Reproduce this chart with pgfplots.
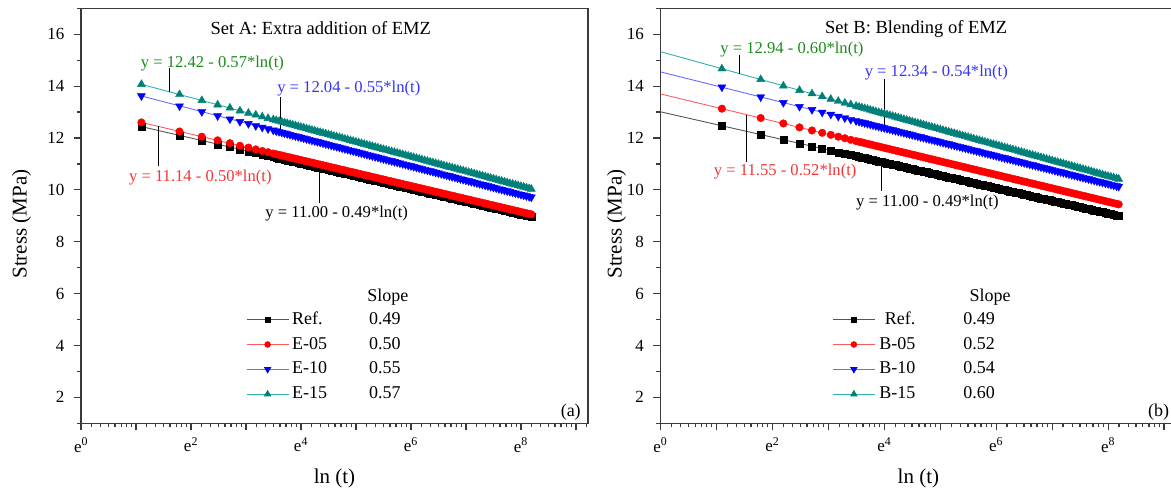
\documentclass[border=0pt]{standalone}
\usepackage{fontspec}
\setmainfont{Liberation Serif}
\usepackage{pgfplots}
\usepackage{pgfplotstable}
\pgfplotsset{compat=1.18}

\definecolor{axgray}{HTML}{3A3A3A}
\definecolor{tealm}{HTML}{008079}
\definecolor{fitblack}{HTML}{555555}
\definecolor{fitred}{HTML}{FF5A5A}
\definecolor{fitblue}{HTML}{6B6BFF}
\definecolor{fitteal}{HTML}{2DB3AA}
\definecolor{eqgreen}{HTML}{1A8C1A}
\definecolor{eqblue}{HTML}{3535F5}
\definecolor{eqred}{HTML}{F53535}

% x = ln(t), t in s; columns: Set A (ra,e5,e10,e15), Set B (rb,b5,b10,b15)
\pgfplotstableread{
x ra e5 e10 e15 rb b5 b10 b15
1.0986 12.44 12.60 13.62 14.07 12.47 13.13 13.96 14.67
1.7918 12.10 12.25 13.23 13.68 12.13 12.77 13.58 14.26
2.1972 11.90 12.05 13.01 13.45 11.93 12.56 13.36 14.01
2.4849 11.76 11.91 12.85 13.28 11.79 12.41 13.21 13.84
2.7081 11.65 11.80 12.73 13.16 11.68 12.29 13.09 13.71
2.8904 11.56 11.70 12.63 13.05 11.59 12.20 12.99 13.60
3.0445 11.49 11.63 12.55 12.96 11.52 12.12 12.91 13.50
3.1781 11.42 11.56 12.47 12.89 11.45 12.05 12.83 13.42
3.2958 11.37 11.50 12.41 12.82 11.40 11.99 12.77 13.35
3.4012 11.31 11.45 12.35 12.76 11.34 11.93 12.71 13.29
3.4965 11.27 11.40 12.30 12.71 11.30 11.88 12.66 13.23
3.55 11.241 11.375 12.268 12.677 11.271 11.854 12.633 13.200
3.6 11.216 11.350 12.240 12.648 11.246 11.828 12.606 13.170
3.65 11.192 11.325 12.213 12.620 11.222 11.802 12.579 13.140
3.7 11.167 11.300 12.185 12.591 11.197 11.776 12.552 13.110
3.75 11.143 11.275 12.158 12.563 11.173 11.750 12.525 13.080
3.8 11.118 11.250 12.130 12.534 11.148 11.724 12.498 13.050
3.85 11.094 11.225 12.103 12.506 11.124 11.698 12.471 13.020
3.9 11.069 11.200 12.075 12.477 11.099 11.672 12.444 12.990
3.95 11.045 11.175 12.048 12.449 11.075 11.646 12.417 12.960
4.0 11.020 11.150 12.020 12.420 11.050 11.620 12.390 12.930
4.05 10.996 11.125 11.993 12.392 11.026 11.594 12.363 12.900
4.1 10.971 11.100 11.965 12.363 11.001 11.568 12.336 12.870
4.15 10.947 11.075 11.938 12.335 10.977 11.542 12.309 12.840
4.2 10.922 11.050 11.910 12.306 10.952 11.516 12.282 12.810
4.25 10.898 11.025 11.883 12.278 10.928 11.490 12.255 12.780
4.3 10.873 11.000 11.855 12.249 10.903 11.464 12.228 12.750
4.35 10.849 10.975 11.828 12.221 10.879 11.438 12.201 12.720
4.4 10.824 10.950 11.800 12.192 10.854 11.412 12.174 12.690
4.45 10.800 10.925 11.773 12.164 10.830 11.386 12.147 12.660
4.5 10.775 10.900 11.745 12.135 10.805 11.360 12.120 12.630
4.55 10.751 10.875 11.718 12.107 10.781 11.334 12.093 12.600
4.6 10.726 10.850 11.690 12.078 10.756 11.308 12.066 12.570
4.65 10.702 10.825 11.663 12.050 10.732 11.282 12.039 12.540
4.7 10.677 10.800 11.635 12.021 10.707 11.256 12.012 12.510
4.75 10.653 10.775 11.608 11.993 10.683 11.230 11.985 12.480
4.8 10.628 10.750 11.580 11.964 10.658 11.204 11.958 12.450
4.85 10.604 10.725 11.553 11.936 10.634 11.178 11.931 12.420
4.9 10.579 10.700 11.525 11.907 10.609 11.152 11.904 12.390
4.95 10.555 10.675 11.498 11.879 10.585 11.126 11.877 12.360
5.0 10.530 10.650 11.470 11.850 10.560 11.100 11.850 12.330
5.05 10.506 10.625 11.443 11.822 10.536 11.074 11.823 12.300
5.1 10.481 10.600 11.415 11.793 10.511 11.048 11.796 12.270
5.15 10.457 10.575 11.388 11.765 10.487 11.022 11.769 12.240
5.2 10.432 10.550 11.360 11.736 10.462 10.996 11.742 12.210
5.25 10.408 10.525 11.333 11.708 10.438 10.970 11.715 12.180
5.3 10.383 10.500 11.305 11.679 10.413 10.944 11.688 12.150
5.35 10.359 10.475 11.278 11.651 10.389 10.918 11.661 12.120
5.4 10.334 10.450 11.250 11.622 10.364 10.892 11.634 12.090
5.45 10.310 10.425 11.223 11.594 10.340 10.866 11.607 12.060
5.5 10.285 10.400 11.195 11.565 10.315 10.840 11.580 12.030
5.55 10.261 10.375 11.168 11.537 10.291 10.814 11.553 12.000
5.6 10.236 10.350 11.140 11.508 10.266 10.788 11.526 11.970
5.65 10.212 10.325 11.113 11.480 10.242 10.762 11.499 11.940
5.7 10.187 10.300 11.085 11.451 10.217 10.736 11.472 11.910
5.75 10.163 10.275 11.058 11.423 10.193 10.710 11.445 11.880
5.8 10.138 10.250 11.030 11.394 10.168 10.684 11.418 11.850
5.85 10.114 10.225 11.003 11.366 10.144 10.658 11.391 11.820
5.9 10.089 10.200 10.975 11.337 10.119 10.632 11.364 11.790
5.95 10.065 10.175 10.948 11.309 10.095 10.606 11.337 11.760
6.0 10.040 10.150 10.920 11.280 10.070 10.580 11.310 11.730
6.05 10.016 10.125 10.893 11.252 10.046 10.554 11.283 11.700
6.1 9.991 10.100 10.865 11.223 10.021 10.528 11.256 11.670
6.15 9.967 10.075 10.838 11.195 9.997 10.502 11.229 11.640
6.2 9.942 10.050 10.810 11.166 9.972 10.476 11.202 11.610
6.25 9.918 10.025 10.783 11.138 9.948 10.450 11.175 11.580
6.3 9.893 10.000 10.755 11.109 9.923 10.424 11.148 11.550
6.35 9.869 9.975 10.728 11.081 9.899 10.398 11.121 11.520
6.4 9.844 9.950 10.700 11.052 9.874 10.372 11.094 11.490
6.45 9.820 9.925 10.673 11.024 9.850 10.346 11.067 11.460
6.5 9.795 9.900 10.645 10.995 9.825 10.320 11.040 11.430
6.55 9.771 9.875 10.618 10.967 9.801 10.294 11.013 11.400
6.6 9.746 9.850 10.590 10.938 9.776 10.268 10.986 11.370
6.65 9.722 9.825 10.563 10.910 9.752 10.242 10.959 11.340
6.7 9.697 9.800 10.535 10.881 9.727 10.216 10.932 11.310
6.75 9.673 9.775 10.508 10.853 9.703 10.190 10.905 11.280
6.8 9.648 9.750 10.480 10.824 9.678 10.164 10.878 11.250
6.85 9.624 9.725 10.453 10.796 9.654 10.138 10.851 11.220
6.9 9.599 9.700 10.425 10.767 9.629 10.112 10.824 11.190
6.95 9.575 9.675 10.398 10.739 9.605 10.086 10.797 11.160
7.0 9.550 9.650 10.370 10.710 9.580 10.060 10.770 11.130
7.05 9.526 9.625 10.343 10.682 9.556 10.034 10.743 11.100
7.1 9.501 9.600 10.315 10.653 9.531 10.008 10.716 11.070
7.15 9.477 9.575 10.288 10.625 9.507 9.982 10.689 11.040
7.2 9.452 9.550 10.260 10.596 9.482 9.956 10.662 11.010
7.25 9.428 9.525 10.233 10.568 9.458 9.930 10.635 10.980
7.3 9.403 9.500 10.205 10.539 9.433 9.904 10.608 10.950
7.35 9.379 9.475 10.178 10.511 9.409 9.878 10.581 10.920
7.4 9.354 9.450 10.150 10.482 9.384 9.852 10.554 10.890
7.45 9.330 9.425 10.123 10.454 9.360 9.826 10.527 10.860
7.5 9.305 9.400 10.095 10.425 9.335 9.800 10.500 10.830
7.55 9.281 9.375 10.068 10.397 9.311 9.774 10.473 10.800
7.6 9.256 9.350 10.040 10.368 9.286 9.748 10.446 10.770
7.65 9.232 9.325 10.013 10.340 9.262 9.722 10.419 10.740
7.7 9.207 9.300 9.985 10.311 9.237 9.696 10.392 10.710
7.75 9.183 9.275 9.958 10.283 9.213 9.670 10.365 10.680
7.8 9.158 9.250 9.930 10.254 9.188 9.644 10.338 10.650
7.85 9.134 9.225 9.903 10.226 9.164 9.618 10.311 10.620
7.9 9.109 9.200 9.875 10.197 9.139 9.592 10.284 10.590
7.95 9.085 9.175 9.848 10.169 9.115 9.566 10.257 10.560
8.0 9.060 9.150 9.820 10.140 9.090 9.540 10.230 10.530
8.05 9.036 9.125 9.793 10.112 9.066 9.514 10.203 10.500
8.1 9.011 9.100 9.765 10.083 9.041 9.488 10.176 10.470
8.15 8.987 9.075 9.738 10.055 9.017 9.462 10.149 10.440
8.189 8.967 9.056 9.716 10.032 8.997 9.442 10.128 10.417
}\data

\pgfplotsset{
  legimg/.style={legend image code/.code={%
    \draw[mark repeat=2,mark phase=2,line width=0.9pt] plot coordinates {(0pt,0pt)(21pt,0pt)(42pt,0pt)};}},
  panel/.style={
    scale only axis, height=415pt,
    xmin=0, xmax=9.22, ymin=1, ymax=17,
    clip=false,
    axis line style={axgray, line width=1.3pt},
    tick align=outside, xtick pos=bottom, ytick pos=left,
    major tick length=7pt, minor tick length=4pt,
    every tick/.style={axgray, line width=1.2pt},
    xtick={0,1,2,3,4,5,6,7,8,9},
    xticklabels={e\textsuperscript{0},{},e\textsuperscript{2},{},e\textsuperscript{4},{},e\textsuperscript{6},{},e\textsuperscript{8},{}},
    minor xtick={0.1946,0.3574,0.4973,0.6201,0.7294,0.8280,0.9177,
      1.1946,1.3574,1.4973,1.6201,1.7294,1.8280,1.9177,
      2.1946,2.3574,2.4973,2.6201,2.7294,2.8280,2.9177,
      3.1946,3.3574,3.4973,3.6201,3.7294,3.8280,3.9177,
      4.1946,4.3574,4.4973,4.6201,4.7294,4.8280,4.9177,
      5.1946,5.3574,5.4973,5.6201,5.7294,5.8280,5.9177,
      6.1946,6.3574,6.4973,6.6201,6.7294,6.8280,6.9177,
      7.1946,7.3574,7.4973,7.6201,7.7294,7.8280,7.9177,
      8.1946,8.3574,8.4973,8.6201,8.7294,8.8280,8.9177,9.1946},
    ytick={2,4,6,8,10,12,14,16},
    minor ytick={1,3,5,7,9,11,13,15,17},
    /pgf/number format/assume math mode=true,
    tick label style={font=\fontsize{17}{17}\selectfont},
    xticklabel style={yshift=-4pt},
    yticklabel style={xshift=-6pt},
    xlabel={ln (t)}, ylabel={Stress (MPa)},
    every axis x label/.style={at={(axis description cs:0.5,0)}, anchor=center, yshift=-55pt, font=\fontsize{21}{21}\selectfont},
    legend style={draw=none, fill=none, anchor=north west, inner sep=0pt,
      font=\fontsize{18}{18}\selectfont, row sep=5.8pt, column sep=2pt,
      nodes={inner sep=1pt, text height=13pt, text depth=4pt}},
    legend cell align=left,
  },
  sref/.style={only marks, mark=square*, mark size=3.5pt, black, mark options={fill=black}},
  sred/.style={only marks, mark=*, mark size=3.8pt, red, mark options={fill=red}},
  sblue/.style={only marks, mark=triangle*, mark size=4.6pt, blue, mark options={fill=blue, rotate=180}},
  steal/.style={only marks, mark=triangle*, mark size=4.6pt, tealm, mark options={fill=tealm}},
  fitl/.style={no marks, line width=0.9pt},
}

\newcommand{\eqfont}{\fontsize{16.6}{16.6}\selectfont}

\begin{document}
\begin{tikzpicture}
%================ Panel A ================
\begin{axis}[panel, at={(81pt,64.7pt)}, anchor=south west, width=507pt,
  every axis y label/.style={at={(axis description cs:-0.117,0.48)}, rotate=90, anchor=center, font=\fontsize{21}{21}\selectfont},
  legend style={at={(0.3254,0.273)}}]
\addlegendimage{legimg, fitblack, mark=square*, mark size=2.6pt, mark options={fill=black, draw=black}}
\addlegendentry{\makebox[77pt][l]{Ref.}0.49}
\addlegendimage{legimg, fitred, mark=*, mark size=2.8pt, mark options={fill=red, draw=red}}
\addlegendentry{\makebox[77pt][l]{E-05}0.50}
\addlegendimage{legimg, fitblue, mark=triangle*, mark size=3.4pt, mark options={fill=blue, draw=blue, rotate=180}}
\addlegendentry{\makebox[77pt][l]{E-10}0.55}
\addlegendimage{legimg, fitteal, mark=triangle*, mark size=3.4pt, mark options={fill=tealm, draw=tealm}}
\addlegendentry{\makebox[77pt][l]{E-15}0.57}

\addplot[fitl, fitblack, forget plot] coordinates {(1.0986,12.44) (8.189,8.967)};
\addplot[fitl, fitred, forget plot] coordinates {(1.0986,12.60) (8.189,9.056)};
\addplot[fitl, fitblue, forget plot] coordinates {(1.0986,13.62) (8.189,9.716)};
\addplot[fitl, fitteal, forget plot] coordinates {(1.0986,14.07) (8.189,10.032)};
\addplot[sref, forget plot] table[x=x, y=ra] {\data};
\addplot[sred, forget plot] table[x=x, y=e5] {\data};
\addplot[sblue, forget plot] table[x=x, y=e10] {\data};
\addplot[steal, forget plot] table[x=x, y=e15] {\data};

\node[font=\fontsize{18.5}{18.5}\selectfont] at (axis cs:4.36,16.22) {Set A: Extra addition of EMZ};
\node[font=\fontsize{18}{18}\selectfont] at (axis cs:5.58,5.88) {Slope};
\node[font=\fontsize{18}{18}\selectfont, anchor=south east, inner sep=2pt] at (rel axis cs:0.99,0.003) {(a)};

\node[font=\eqfont, text=eqgreen] at (axis cs:2.39,14.88) {y = 12.42 - 0.57*ln(t)};
\node[font=\eqfont, text=eqblue] at (axis cs:4.87,13.91) {y = 12.04 - 0.55*ln(t)};
\node[font=\eqfont, text=eqred] at (axis cs:2.17,10.47) {y = 11.14 - 0.50*ln(t)};
\node[font=\eqfont, text=black] at (axis cs:4.65,9.10) {y = 11.00 - 0.49*ln(t)};
\draw[black, line width=0.8pt] (axis cs:1.61,14.70) -- (axis cs:1.61,13.78);
\draw[black, line width=0.8pt] (axis cs:3.63,13.58) -- (axis cs:3.63,12.22);
\draw[black, line width=0.8pt] (axis cs:1.40,12.45) -- (axis cs:1.40,10.92);
\draw[black, line width=0.8pt] (axis cs:4.33,10.86) -- (axis cs:4.33,9.49);
\end{axis}

%================ Panel B ================
\begin{axis}[panel, at={(660.4pt,64.7pt)}, anchor=south west, width=516pt,
  every axis y label/.style={at={(axis description cs:-0.085,0.48)}, rotate=90, anchor=center, font=\fontsize{21}{21}\selectfont},
  legend style={at={(0.333,0.273)}}]
\addlegendimage{legimg, fitblack, mark=square*, mark size=2.6pt, mark options={fill=black, draw=black}}
\addlegendentry{\makebox[85pt][l]{\makebox[37pt][r]{Ref.}}0.49}
\addlegendimage{legimg, fitred, mark=*, mark size=2.8pt, mark options={fill=red, draw=red}}
\addlegendentry{\makebox[85pt][l]{\makebox[37pt][r]{B-05}}0.52}
\addlegendimage{legimg, fitblue, mark=triangle*, mark size=3.4pt, mark options={fill=blue, draw=blue, rotate=180}}
\addlegendentry{\makebox[85pt][l]{\makebox[37pt][r]{B-10}}0.54}
\addlegendimage{legimg, fitteal, mark=triangle*, mark size=3.4pt, mark options={fill=tealm, draw=tealm}}
\addlegendentry{\makebox[85pt][l]{\makebox[37pt][r]{B-15}}0.60}

\addplot[fitl, fitblack, forget plot] coordinates {(0,13.01) (8.189,8.997)};
\addplot[fitl, fitred, forget plot] coordinates {(0,13.70) (8.189,9.442)};
\addplot[fitl, fitblue, forget plot] coordinates {(0,14.55) (8.189,10.128)};
\addplot[fitl, fitteal, forget plot] coordinates {(0,15.33) (8.189,10.417)};
\addplot[sref, forget plot] table[x=x, y=rb] {\data};
\addplot[sred, forget plot] table[x=x, y=b5] {\data};
\addplot[sblue, forget plot] table[x=x, y=b10] {\data};
\addplot[steal, forget plot] table[x=x, y=b15] {\data};

\node[font=\fontsize{18.5}{18.5}\selectfont] at (axis cs:4.57,16.22) {Set B: Blending of EMZ};
\node[font=\fontsize{18}{18}\selectfont] at (axis cs:5.89,5.88) {Slope};
\node[font=\fontsize{18}{18}\selectfont, anchor=south east, inner sep=2pt] at (rel axis cs:0.99,0.003) {(b)};

\node[font=\eqfont, text=eqgreen] at (axis cs:2.35,15.40) {y = 12.94 - 0.60*ln(t)};
\node[font=\eqfont, text=eqblue] at (axis cs:4.93,14.53) {y = 12.34 - 0.54*ln(t)};
\node[font=\eqfont, text=eqred] at (axis cs:2.23,10.70) {y = 11.55 - 0.52*ln(t)};
\node[font=\eqfont, text=black] at (axis cs:4.77,9.53) {y = 11.00 - 0.49*ln(t)};
\draw[black, line width=0.8pt] (axis cs:1.42,15.20) -- (axis cs:1.42,14.48);
\draw[black, line width=0.8pt] (axis cs:4.00,14.27) -- (axis cs:4.00,12.39);
\draw[black, line width=0.8pt] (axis cs:1.53,12.88) -- (axis cs:1.53,11.09);
\draw[black, line width=0.8pt] (axis cs:3.95,11.07) -- (axis cs:3.95,9.95);
\end{axis}

\pgfresetboundingbox
\useasboundingbox (0,0) rectangle (1171pt,488pt);
\end{tikzpicture}
\end{document}
